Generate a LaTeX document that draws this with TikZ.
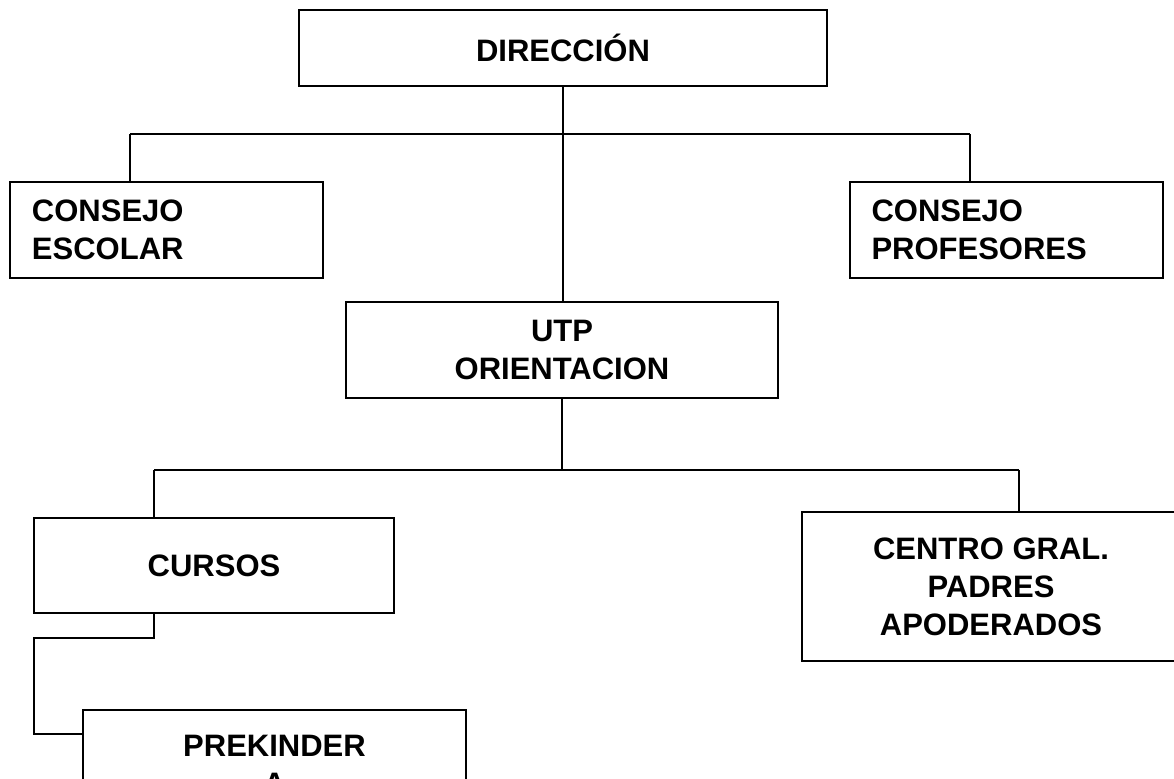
\documentclass[tikz,border=0pt]{standalone}
\usepackage{fontspec}
\setmainfont{Liberation Sans}
\usetikzlibrary{positioning,calc}

\begin{document}
\begin{tikzpicture}[x=0.5pt, y=-0.5pt, line width=1pt,
    box/.style={draw, line width=1pt, inner sep=0pt, align=center,
        font=\bfseries\fontsize{15.5}{19}\selectfont},
    leftbox/.style={box, align=left, text width=134.5pt,
        minimum width=156.5pt, minimum height=48pt}]

    \useasboundingbox (0,0) rectangle (1174,778);
    \clip (0,0) rectangle (1174,778);

    \node[box, minimum width=264pt, minimum height=38pt] (dir) at (563,48) {DIRECCIÓN};
    \node[leftbox] (ce) at (166.5,230) {CONSEJO\\ESCOLAR};
    \node[leftbox] (cp) at (1006,230) {CONSEJO\\PROFESORES};
    \node[box, minimum width=216pt, minimum height=48pt] (utp) at (562,350) {UTP\\ORIENTACION};
    \node[box, minimum width=180pt, minimum height=47.5pt] (cur) at (214,565.5) {CURSOS};
    \node[box, minimum width=189pt, minimum height=74.5pt] (cgp) at (991,586.5) {CENTRO GRAL.\\PADRES\\APODERADOS};
    \node[box, minimum width=191.5pt, minimum height=55pt] (pre) at (274.5,765) {PREKINDER\\A};

    \coordinate (bl) at (130,134);
    \coordinate (br) at (970,134);
    \coordinate (cl) at (154,470);
    \coordinate (cr) at (1019,470);
    \coordinate (ck) at (34,638);
    \coordinate (pk) at (34,734);

    \draw (dir.south) -- (dir.south |- utp.north);
    \draw (bl) -- (br);
    \draw (bl) -- (bl |- ce.north);
    \draw (br) -- (br |- cp.north);

    \draw (utp.south) -- (utp.south |- cl);
    \draw (cl) -- (cr);
    \draw (cl) -- (cl |- cur.north);
    \draw (cr) -- (cr |- cgp.north);

    \draw (cl |- cur.south) |- (ck) -- (pk) -- (pk -| pre.west);

\end{tikzpicture}
\end{document}
